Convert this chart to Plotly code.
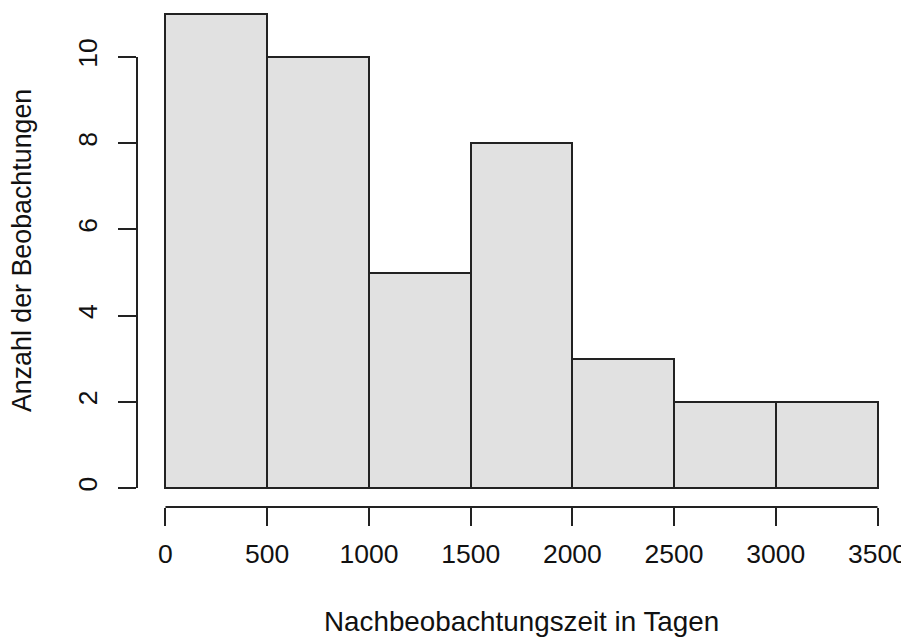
import plotly.graph_objects as go

bin_starts = [0, 500, 1000, 1500, 2000, 2500, 3000]
bin_width = 500
counts = [11, 10, 5, 8, 3, 2, 2]
x_ticks = [0, 500, 1000, 1500, 2000, 2500, 3000, 3500]
y_ticks = [0, 2, 4, 6, 8, 10]
x_title = "Nachbeobachtungszeit in Tagen"
y_title = "Anzahl der Beobachtungen"

centers = [s + bin_width / 2 for s in bin_starts]
FAMILY = "Liberation Sans, Arial, sans-serif"
FONT = dict(family=FAMILY, size=27, color="black")

W, H = 901, 629
L, R, T, B = 129, 2.5, 0, 130
PW, PH = W - L - R, H - T - B

fig = go.Figure(go.Bar(
    x=centers, y=counts, width=[bin_width] * len(counts),
    marker=dict(color="#e1e1e1", line=dict(color="#222222", width=2)),
    hoverinfo="skip",
))

fig.update_layout(
    width=W, height=H,
    margin=dict(l=L, r=R, t=T, b=B, pad=0),
    plot_bgcolor="white", paper_bgcolor="white",
    showlegend=False, bargap=0,
    font=FONT,
    xaxis=dict(range=[-140, 3640], tickvals=x_ticks, ticktext=[str(v) for v in x_ticks],
               showgrid=False, zeroline=False, showline=False,
               ticks="outside", ticklen=18, tickwidth=2, tickcolor="#222222",
               tickfont=dict(family=FAMILY, size=26.5, color="#111111"), ticklabelstandoff=5),
    yaxis=dict(range=[-0.44, -0.44 + PH / 43.1], tickvals=y_ticks, ticktext=[str(v) for v in y_ticks],
               showgrid=False, zeroline=False, showline=False,
               ticks="outside", ticklen=18, tickwidth=2, tickcolor="#222222",
               tickangle=-90, tickfont=dict(family=FAMILY, size=26.5, color="#111111"),
               ticklabelstandoff=10),
    shapes=[
        dict(type="line", xref="x", yref="paper", x0=x_ticks[0], x1=x_ticks[-1], y0=0, y1=0,
             line=dict(color="#222222", width=2)),
        dict(type="line", xref="paper", yref="y", x0=0, x1=0, y0=y_ticks[0], y1=y_ticks[-1],
             line=dict(color="#222222", width=2)),
    ],
    annotations=[
        dict(text=x_title, xref="x", yref="paper", x=1750, y=-114 / PH, xanchor="center",
             yanchor="middle", showarrow=False, font=dict(family=FAMILY, size=27.8, color="#111111")),
        dict(text=y_title, xref="paper", yref="y", x=-115 / PW, y=5.5, xanchor="center",
             yanchor="middle", textangle=-90, showarrow=False,
             font=dict(family=FAMILY, size=26.8, color="#111111")),
    ],
)

fig.write_html("out.html")
